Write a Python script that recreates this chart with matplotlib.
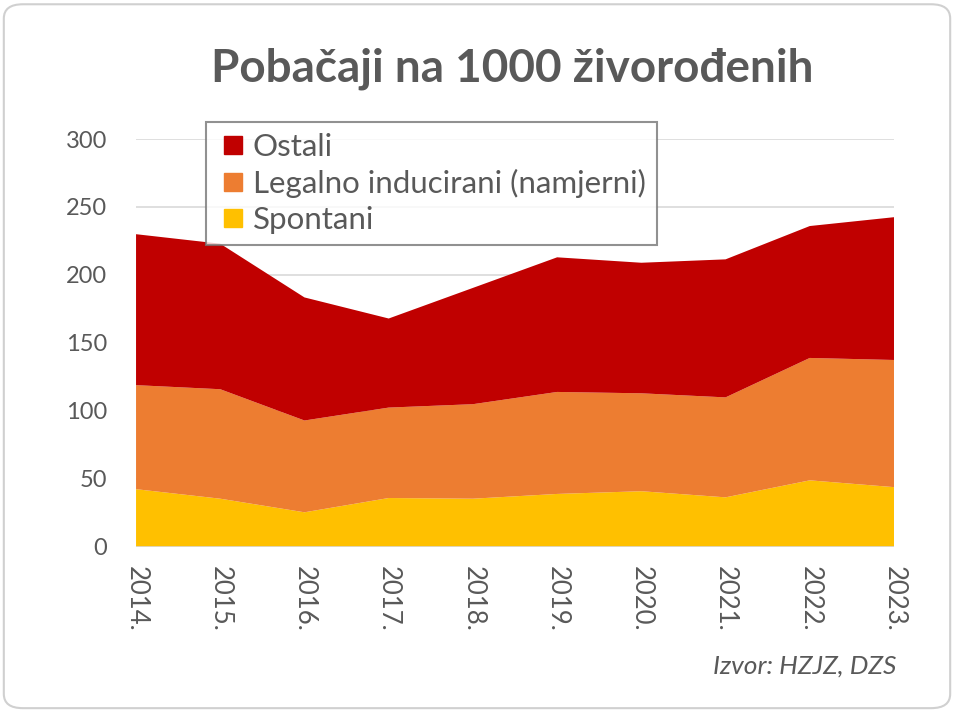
import matplotlib
matplotlib.use("Agg")
import matplotlib.pyplot as plt
from matplotlib.patches import FancyBboxPatch
from matplotlib.lines import Line2D
import numpy as np

# data (per 1000 live births)
years = [2014, 2015, 2016, 2017, 2018, 2019, 2020, 2021, 2022, 2023]
year_labels = [str(y) + "." for y in years]
spontani = [42.5, 35.5, 25.5, 36.0, 35.5, 39.0, 41.0, 36.5, 49.0, 44.0]
legalno = [76.5, 80.5, 67.5, 66.5, 69.5, 75.0, 72.0, 73.5, 90.0, 93.5]
ostali = [111.0, 107.0, 90.5, 65.5, 85.5, 99.0, 96.0, 101.5, 97.0, 105.0]

c_red = "#C00000"
c_orange = "#ED7D31"
c_yellow = "#FFC000"
txt = "#595959"

plt.rcParams['font.family'] = ['Lato', 'DejaVu Sans']

fig = plt.figure(figsize=(9.54, 7.11), dpi=100)
fig.patches.append(FancyBboxPatch((0.004, 0.004), 0.992, 0.99, boxstyle="round,pad=0,rounding_size=0.02",
                                  transform=fig.transFigure, fc="white", ec="#d0d0d0", lw=1.5, zorder=-10))

ax = fig.add_axes([0.1426, 0.2307, 0.7945, 0.5738])
ax.set_facecolor("none")
ax.stackplot(years, spontani, legalno, ostali, colors=[c_yellow, c_orange, c_red], zorder=2)

ax.set_xlim(2014, 2023)
ax.set_ylim(0, 300)
ax.set_yticks(range(0, 301, 50))
ax.set_xticks(years)
ax.set_xticklabels(year_labels, rotation=270, color=txt, fontsize=18.5)
ax.tick_params(axis='y', colors=txt, labelsize=17, length=0, pad=21)
ax.tick_params(axis='x', length=0, pad=14)
ax.grid(axis='y', color="#d9d9d9", lw=1.2, zorder=0)
for s in ax.spines.values():
    s.set_visible(False)
ax.axhline(0, color="#d9d9d9", lw=1.2, zorder=3)

fig.text(0.537, 0.903, "Pobačaji na 1000 živorođenih", ha="center", va="center",
         fontsize=33, fontweight="bold", color=txt)

handles = [Line2D([], [], ls="", marker="s", markersize=13, color=c, label=l)
           for c, l in [(c_red, "Ostali"),
                        (c_orange, "Legalno inducirani (namjerni)"),
                        (c_yellow, "Spontani")]]
leg = fig.legend(handles=handles, loc="upper left", bbox_to_anchor=(0.216, 0.8284),
                 fontsize=22.5, frameon=True, fancybox=False, edgecolor="#767676",
                 handlelength=1.0, handletextpad=0.15, labelspacing=0.25,
                 borderpad=0.35, borderaxespad=0, labelcolor=txt)
leg.get_frame().set_linewidth(1.5)

fig.text(0.94, 0.063, "Izvor: HZJZ, DZS", ha="right", va="center", fontsize=19,
         style="italic", color=txt)

fig.savefig("out.png", dpi=100)
